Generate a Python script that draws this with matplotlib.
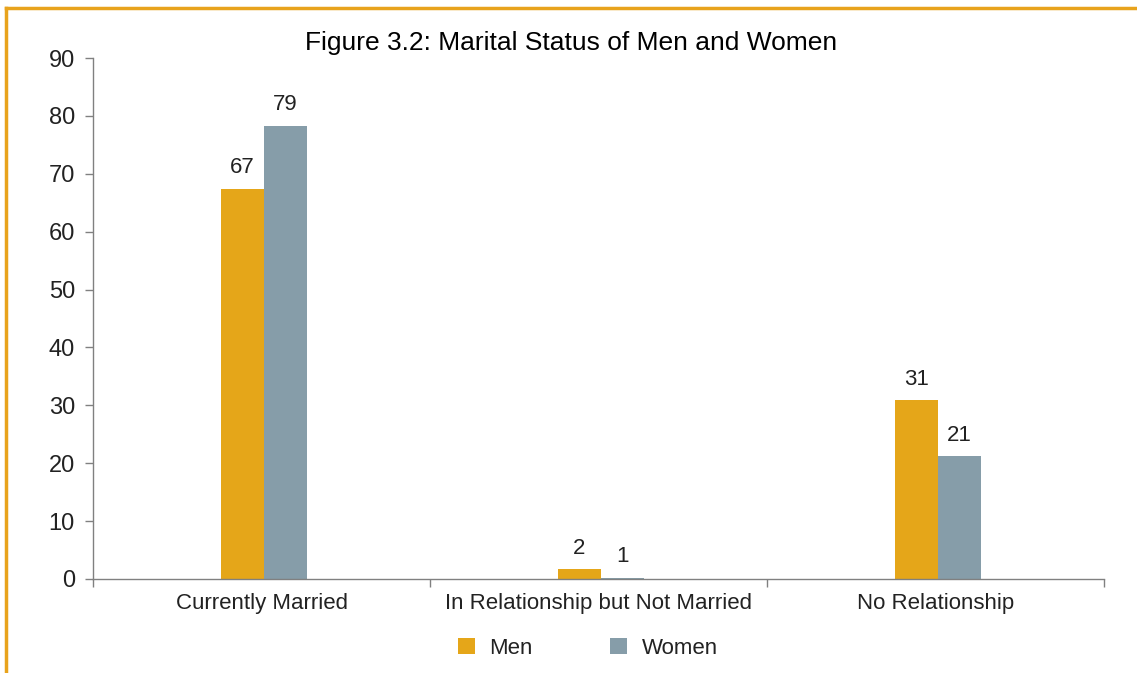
import matplotlib.pyplot as plt
from matplotlib.lines import Line2D
import numpy as np

plt.rcParams['font.family'] = ['Liberation Sans', 'DejaVu Sans']

categories = ['Currently Married', 'In Relationship but Not Married', 'No Relationship']
men = [67.4, 1.7, 30.9]
women = [78.3, 0.2, 21.2]
men_labels = ['67', '2', '31']
women_labels = ['79', '1', '21']

c_men = '#E5A619'
c_women = '#869DA9'
txt = '#222222'
axis_col = '#808080'

fig = plt.figure(figsize=(11.37, 6.73), dpi=100)
ax = fig.add_axes([0.0818, 0.1397, 0.971 - 0.0818, 0.9138 - 0.1397])

x = np.arange(len(categories))
w = 0.127
off = 0.007
b1 = ax.bar(x - w / 2 + off, men, w, color=c_men, label='Men')
b2 = ax.bar(x + w / 2 + off, women, w, color=c_women, label='Women')

for bars, labs in ((b1, men_labels), (b2, women_labels)):
    for b, l in zip(bars, labs):
        ax.text(b.get_x() + b.get_width() / 2, b.get_height() + 1.8, l,
                ha='center', va='bottom', fontsize=16, color=txt)

ax.set_xlim(-0.5, 2.5)
ax.set_ylim(0, 90)
ax.set_yticks(range(0, 91, 10))
ax.tick_params(axis='y', labelsize=17, colors=txt, color=axis_col, length=6, width=1, pad=7)

# category labels without ticks, boundary ticks separately
ax.set_xticks(x)
ax.set_xticklabels(categories, fontsize=16, color=txt)
ax.tick_params(axis='x', length=0, pad=10)
ax.set_xticks([-0.5, 0.5, 1.5, 2.5], minor=True)
ax.tick_params(axis='x', which='minor', length=6, width=1, color=axis_col)

for s in ['top', 'right']:
    ax.spines[s].set_visible(False)
for s in ['left', 'bottom']:
    ax.spines[s].set_color(axis_col)
    ax.spines[s].set_linewidth(1)

fig.text(0.502, 0.936, 'Figure 3.2: Marital Status of Men and Women',
         ha='center', va='center', fontsize=19, color='black')

fig.legend(handles=[b1, b2], labels=['Men', 'Women'], loc='center',
           bbox_to_anchor=(0.517, 0.037), ncol=2, frameon=False, fontsize=16,
           handlelength=0.77, handleheight=0.77, columnspacing=3.5,
           handletextpad=0.64, labelcolor=txt)

# orange page frame
fig.add_artist(Line2D([0.0053, 1.0], [0.988, 0.988], color='#E8A31C', lw=2.5, transform=fig.transFigure))
fig.add_artist(Line2D([0.0053, 0.0053], [0.0, 0.988], color='#E8A31C', lw=2.5, transform=fig.transFigure))

fig.savefig('out.png', dpi=100)
